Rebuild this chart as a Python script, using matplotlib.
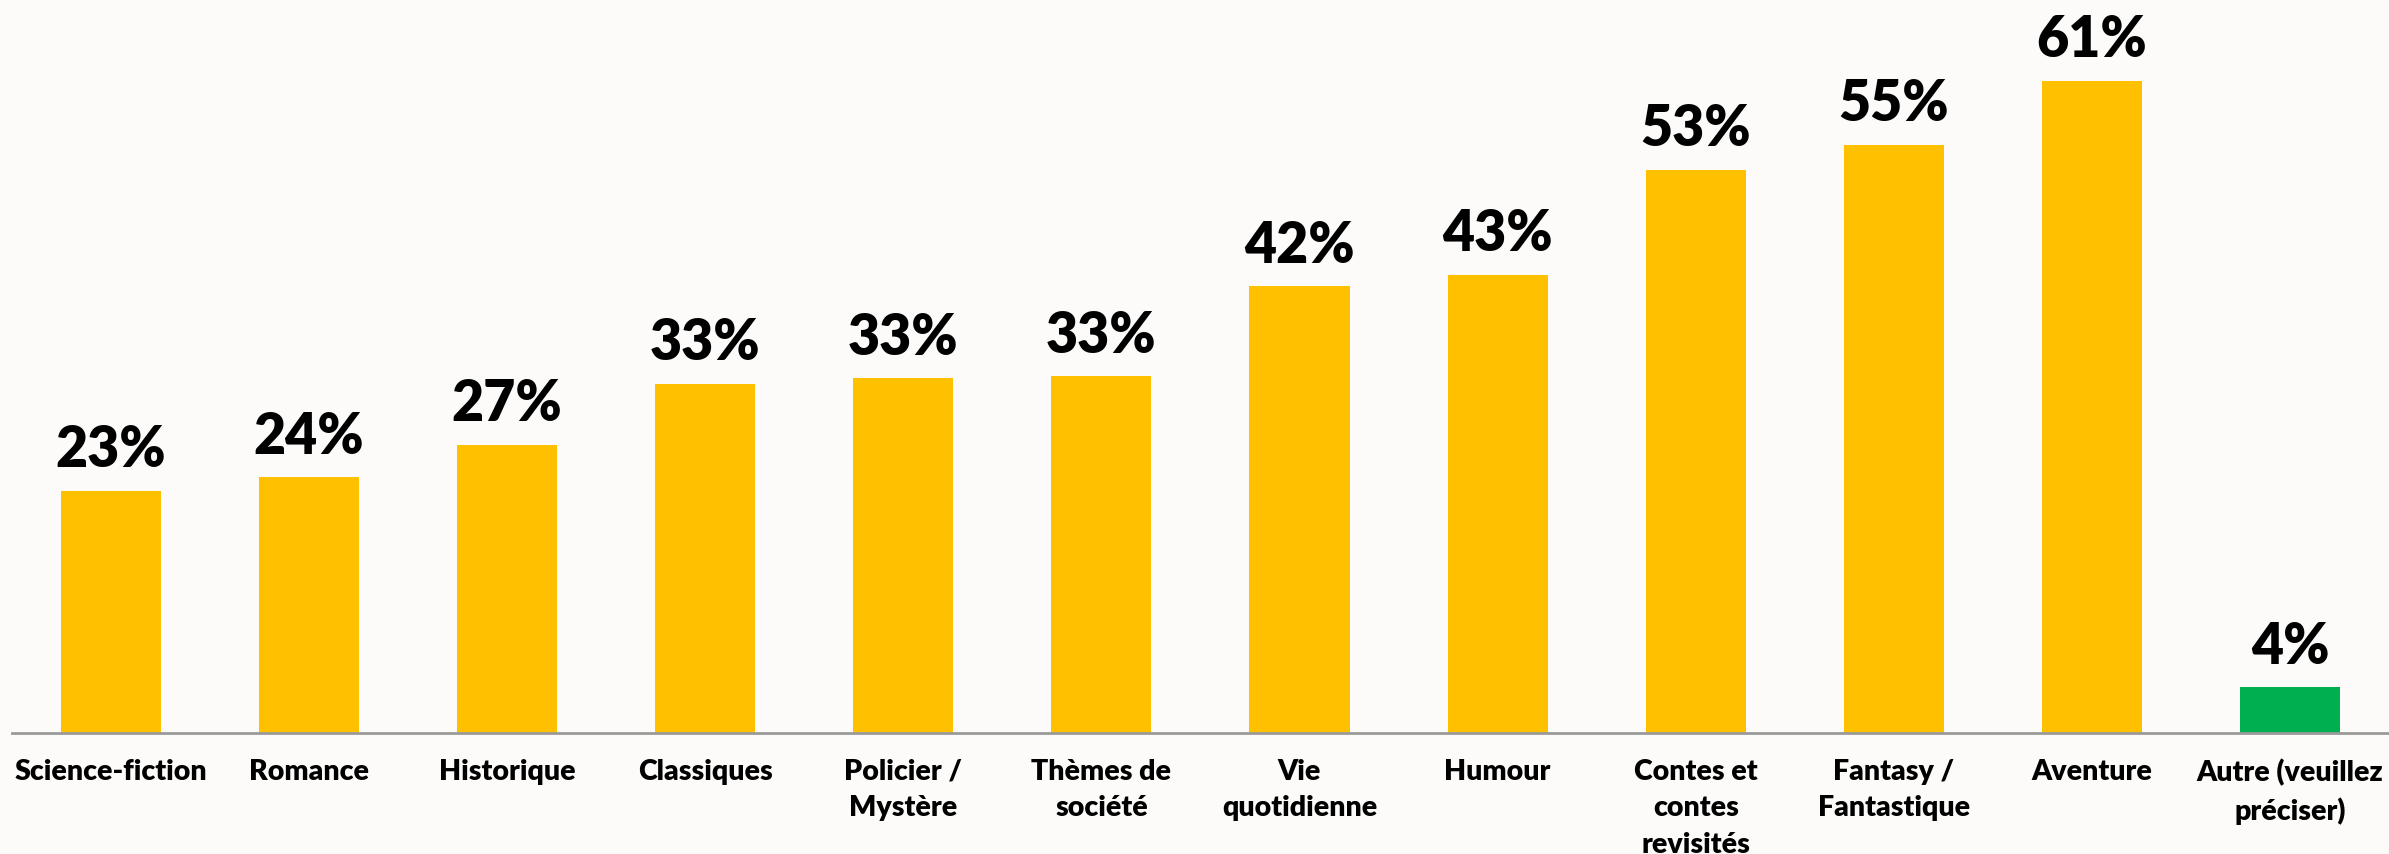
import matplotlib.pyplot as plt
import numpy as np

# Données
categories = ["Science-fiction", "Romance", "Historique", "Classiques",
              "Policier /\nMystère", "Thèmes de\nsociété", "Vie\nquotidienne",
              "Humour", "Contes et\ncontes\nrevisités", "Fantasy /\nFantastique",
              "Aventure", "Autre (veuillez\npréciser)"]
valeurs = [22.6, 23.9, 26.9, 32.6, 33.1, 33.3, 41.7, 42.8, 52.6, 54.9, 60.9, 4.3]
etiquettes = ["23%", "24%", "27%", "33%", "33%", "33%", "42%", "43%",
              "53%", "55%", "61%", "4%"]
couleurs = ["#FFC000"] * 11 + ["#00B050"]

fond = "#FCFBF9"
plt.rcParams['font.family'] = ['Lato', 'DejaVu Sans']

fig = plt.figure(figsize=(23.89, 8.548), dpi=100, facecolor=fond)
ax = fig.add_axes([0.005, 0.1415, 0.995, 0.8585])
ax.set_facecolor(fond)

x = np.arange(len(categories))
barres = ax.bar(x, valeurs, width=0.505, color=couleurs, zorder=2)

for b, txt in zip(barres, etiquettes):
    ax.annotate(txt, (b.get_x() + b.get_width() / 2, b.get_height()),
                xytext=(0, 11), textcoords='offset points',
                ha='center', va='bottom', fontsize=40, fontweight='heavy',
                color='black')

ax.set_xlim(-0.5, len(categories) - 0.5)
ax.set_ylim(0, 68.5)
ax.set_xticks(x)
ax.set_xticklabels(categories, fontsize=20.5, fontweight='heavy', linespacing=1.5,
                   va='top')
ax.tick_params(axis='x', length=0, pad=18)
ax.set_yticks([])

for s in ['top', 'right', 'left']:
    ax.spines[s].set_visible(False)
ax.spines['bottom'].set_color('#9A9A9A')
ax.spines['bottom'].set_linewidth(2)

fig.savefig("out.png", dpi=100, facecolor=fond)
